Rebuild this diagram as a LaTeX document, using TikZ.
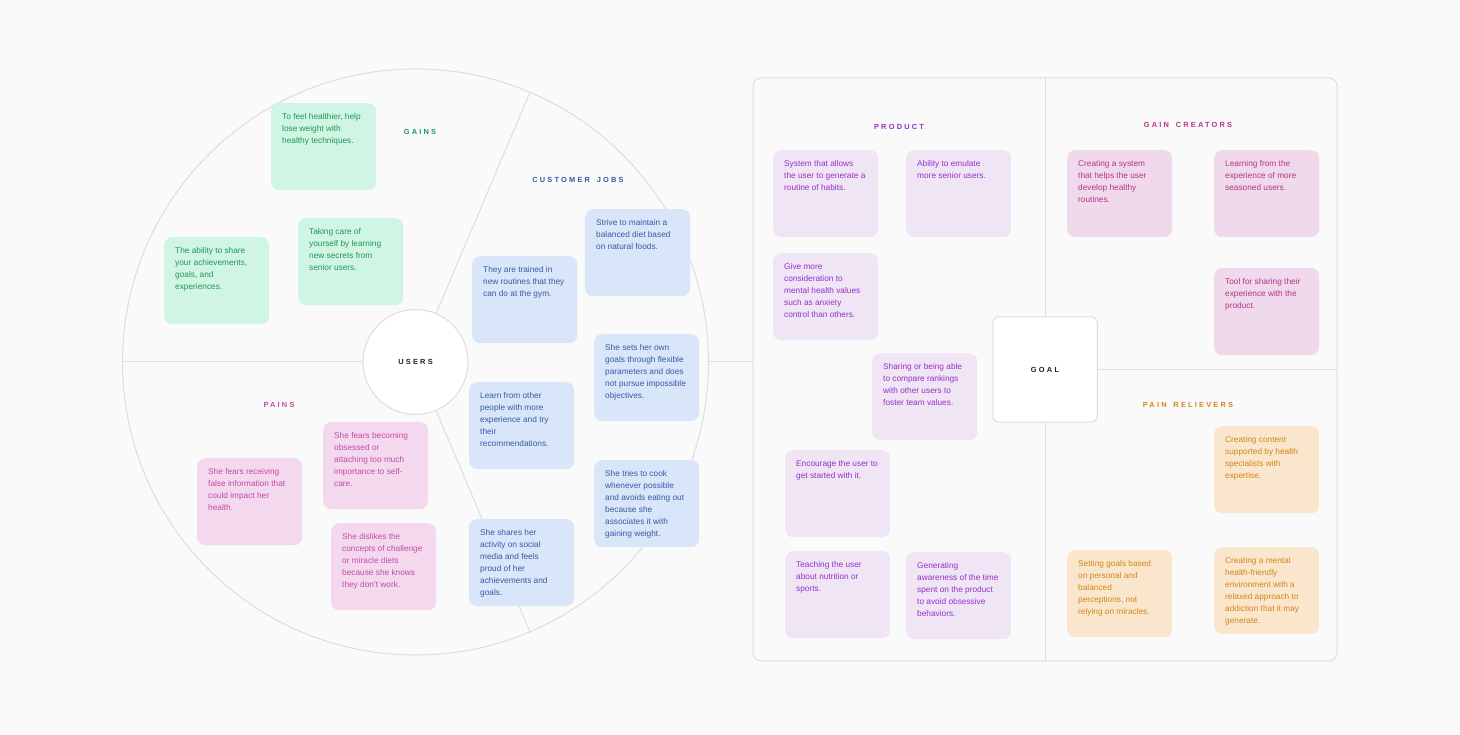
\documentclass[tikz,border=0pt]{standalone}
\usepackage{fontspec}
\setmainfont{Liberation Sans}
\newfontfamily\lblfont[LetterSpace=30]{Liberation Sans}
\definecolor{bg}{HTML}{FAFAFA}
\definecolor{linegray}{HTML}{DDDDDD}
\definecolor{gainbg}{HTML}{D1F5E4}\definecolor{gainfg}{HTML}{1C9853}
\definecolor{jobbg}{HTML}{D9E6F9}\definecolor{jobfg}{HTML}{3858A6}
\definecolor{painbg}{HTML}{F3D8EE}\definecolor{painfg}{HTML}{C44AA9}
\definecolor{prodbg}{HTML}{F0E5F4}\definecolor{prodfg}{HTML}{9530C8}
\definecolor{gcbg}{HTML}{F0D9EA}\definecolor{gcfg}{HTML}{B3348C}
\definecolor{prbg}{HTML}{F9E6CD}\definecolor{prfg}{HTML}{D48518}
\definecolor{inkdark}{HTML}{222222}
\tikzset{
  card/.style={anchor=north west, minimum width=105pt, minimum height=87pt, rounded corners=8pt, inner sep=0pt},
  cardtext/.style={anchor=north west, inner sep=0pt, align=left, font=\fontsize{8.3}{12}\selectfont},
  gaincard/.style={fill=gainbg}, gaintxt/.style={text=gainfg},
  jobcard/.style={fill=jobbg}, jobtxt/.style={text=jobfg},
  paincard/.style={fill=painbg}, paintxt/.style={text=painfg},
  prodcard/.style={fill=prodbg}, prodtxt/.style={text=prodfg},
  gccard/.style={fill=gcbg}, gctxt/.style={text=gcfg},
  prcard/.style={fill=prbg}, prtxt/.style={text=prfg},
  lbl/.style={inner sep=0pt, font=\lblfont\bfseries\fontsize{7.4}{9}\selectfont},
  divider/.style={draw=linegray, line width=1pt},
}
\newcommand\vpcard[5]{%
  \node[card,#4card] (#1) at (#2,#3) {};
  \node[cardtext,#4txt] (#1t) at ([xshift=11pt,yshift=-8pt]#1.north west) {\strut #5};
}
\newcommand\wsp{\ \hspace{2.5pt}}
\begin{document}
\begin{tikzpicture}[x=1pt,y=-1pt]
\useasboundingbox[fill=bg] (0,0) rectangle (1460,735);
% left circle
\node[circle, divider, minimum size=586pt, inner sep=0pt] (big) at (415.5,362) {};
\node[circle, divider, fill=white, minimum size=105pt, inner sep=0pt, lbl, text=inkdark] (users) at (415.5,362) {USERS};
\draw[divider] (big.west) -- (users.west);
\draw[divider] (users.67) -- (big.67);
\draw[divider] (users.-67) -- (big.-67);
% right panel
\node[divider, rounded corners=8pt, minimum width=584pt, minimum height=583pt, inner sep=0pt] (panel) at (1045,369.5) {};
\draw[divider] (big.east) -- (big.east -| panel.west);
\node[divider, fill=white, rounded corners=6pt, minimum width=104.5pt, minimum height=105pt, inner sep=0pt, lbl, text=inkdark] (goal) at (1045,369.5) {GOAL};
\draw[divider] (goal.north |- panel.north) -- (goal.north);
\draw[divider] (goal.south) -- (goal.south |- panel.south);
\draw[divider] (goal.east) -- (goal.east -| panel.east);
% section labels
\node[lbl, text=gainfg] (lgains) at (420,132) {GAINS};
\node[lbl, text=jobfg] (ljobs) at (578,180) {CUSTOMER\wsp JOBS};
\node[lbl, text=painfg] (lpains) at (279,405) {PAINS};
\node[lbl, text=prodfg] (lprod) at (899,127) {PRODUCT};
\node[lbl, text=gcfg] (lgc) at (1188,125) {GAIN\wsp CREATORS};
\node[lbl, text=prfg] (lpr) at (1188,405) {PAIN\wsp RELIEVERS};
% gains
\vpcard{g1}{271}{103}{gain}{To feel healthier, help\\lose weight with\\healthy techniques.}
\vpcard{g2}{298}{218}{gain}{Taking care of\\yourself by learning\\new secrets from\\senior users.}
\vpcard{g3}{164}{237}{gain}{The ability to share\\your achievements,\\goals, and\\experiences.}
% customer jobs
\vpcard{j1}{585}{209}{job}{Strive to maintain a\\balanced diet based\\on natural foods.}
\vpcard{j2}{472}{256}{job}{They are trained in\\new routines that they\\can do at the gym.}
\vpcard{j3}{594}{334}{job}{She sets her own\\goals through flexible\\parameters and does\\not pursue impossible\\objectives.}
\vpcard{j4}{469}{382}{job}{Learn from other\\people with more\\experience and try\\their\\recommendations.}
\vpcard{j5}{594}{460}{job}{She tries to cook\\whenever possible\\and avoids eating out\\because she\\associates it with\\gaining weight.}
\vpcard{j6}{469}{519}{job}{She shares her\\activity on social\\media and feels\\proud of her\\achievements and\\goals.}
% pains
\vpcard{p1}{323}{422}{pain}{She fears becoming\\obsessed or\\attaching too much\\importance to self-\\care.}
\vpcard{p2}{197}{458}{pain}{She fears receiving\\false information that\\could impact her\\health.}
\vpcard{p3}{331}{523}{pain}{She dislikes the\\concepts of challenge\\or miracle diets\\because she knows\\they don't work.}
% product
\vpcard{pr1}{773}{150}{prod}{System that allows\\the user to generate a\\routine of habits.}
\vpcard{pr2}{906}{150}{prod}{Ability to emulate\\more senior users.}
\vpcard{pr3}{773}{253}{prod}{Give more\\consideration to\\mental health values\\such as anxiety\\control than others.}
\vpcard{pr4}{872}{353}{prod}{Sharing or being able\\to compare rankings\\with other users to\\foster team values.}
\vpcard{pr5}{785}{450}{prod}{Encourage the user to\\get started with it.}
\vpcard{pr6}{785}{551}{prod}{Teaching the user\\about nutrition or\\sports.}
\vpcard{pr7}{906}{552}{prod}{Generating\\awareness of the time\\spent on the product\\to avoid obsessive\\behaviors.}
% gain creators
\vpcard{gc1}{1067}{150}{gc}{Creating a system\\that helps the user\\develop healthy\\routines.}
\vpcard{gc2}{1214}{150}{gc}{Learning from the\\experience of more\\seasoned users.}
\vpcard{gc3}{1214}{268}{gc}{Tool for sharing their\\experience with the\\product.}
% pain relievers
\vpcard{rl1}{1214}{426}{pr}{Creating content\\supported by health\\specialists with\\expertise.}
\vpcard{rl2}{1067}{550}{pr}{Setting goals based\\on personal and\\balanced\\perceptions, not\\relying on miracles.}
\vpcard{rl3}{1214}{547}{pr}{Creating a mental\\health-friendly\\environment with a\\relaxed approach to\\addiction that it may\\generate.}
\end{tikzpicture}
\end{document}
